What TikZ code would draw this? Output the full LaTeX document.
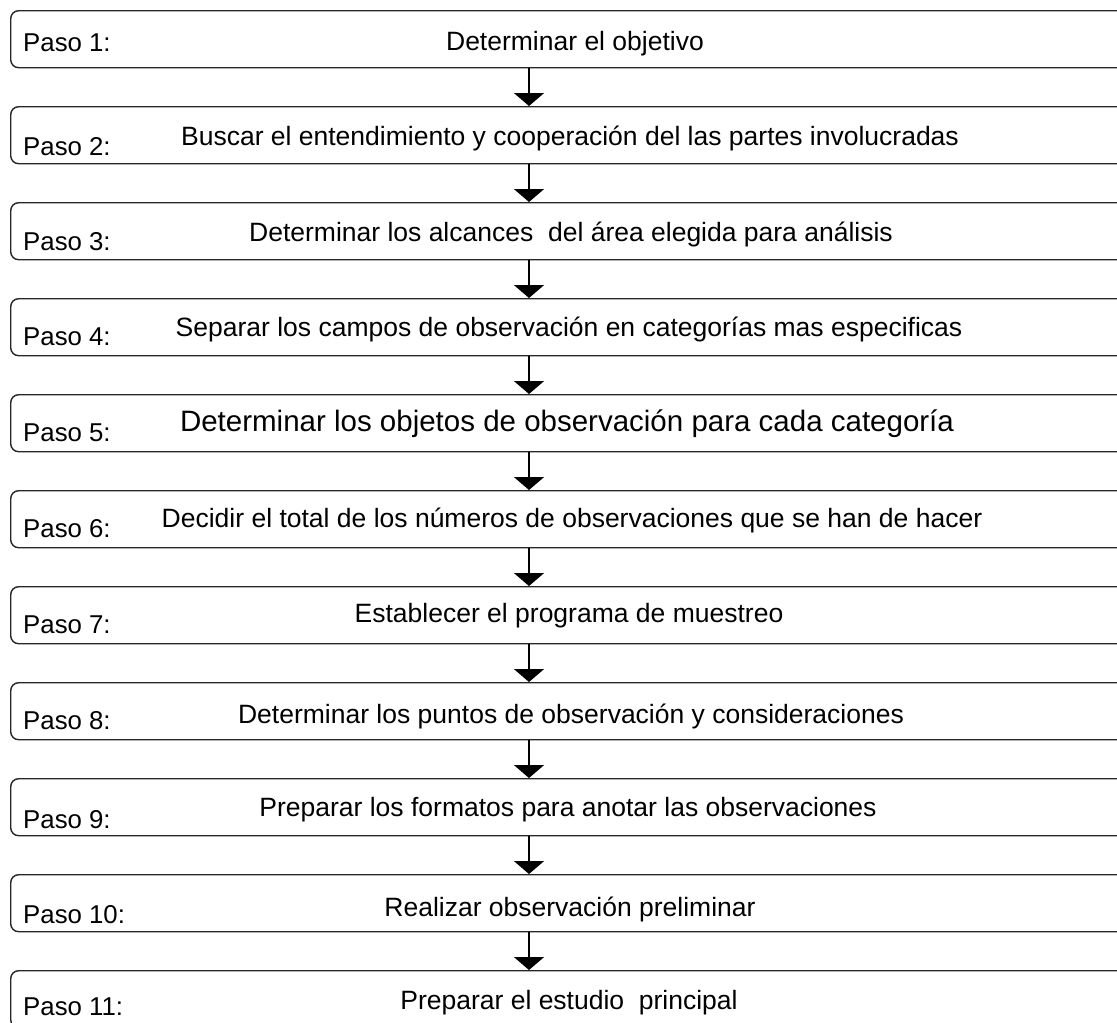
\documentclass[tikz,border=0pt]{standalone}
\usepackage{fontspec}
\setmainfont{Liberation Sans}
\usetikzlibrary{arrows.meta}
\begin{document}
\begin{tikzpicture}[x=1pt,y=-1pt,
  stepbox/.style={draw=black!85, line width=1.4pt, rounded corners=8pt, minimum width=1130pt, minimum height=57pt, anchor=north west, inner sep=0pt},
  lbl/.style={anchor=base west, inner sep=0pt, font=\fontsize{25.8}{30}\selectfont},
  txt/.style={anchor=base, inner sep=0pt},
  arr/.style={line width=1.8pt, -{Triangle[width=30pt,length=13pt]}}]
\useasboundingbox (0,0) rectangle (1117,1023);
\clip (0,0) rectangle (1117,1023);
\coordinate (ax) at (529,0);
\foreach \i/\top/\lb/\tb/\tx/\fs/\tt in {
  1/10/51/50/575/26.5/{Determinar el objetivo},
  2/106/155/145/570/26.5/{Buscar el entendimiento y cooperación del las partes involucradas},
  3/202/250/241/571/26.5/{Determinar los alcances\ \ del área elegida para análisis},
  4/298/345/336/569/26.5/{Separar los campos de observación en categorías mas especificas},
  5/394/441/431/567/29.5/{Determinar los objetos de observación para cada categoría},
  6/490/537/527/572/26.5/{Decidir el total de los números de observaciones que se han de hacer},
  7/586/633/622/569/26.5/{Establecer el programa de muestreo},
  8/682/729/723/571/26.5/{Determinar los puntos de observación y consideraciones},
  9/778/828/816/568/26.5/{Preparar los formatos para anotar las observaciones},
  10/874/923/916/570/26.5/{Realizar observación preliminar},
  11/970/1015/1009/569/26.5/{Preparar el estudio\ \ principal}}
{
  \node[stepbox] (b\i) at (10,\top) {};
  \node[lbl] (l\i) at (23,\lb) {Paso \i:};
  \node[txt, font=\fontsize{\fs}{32}\selectfont] (t\i) at (\tx,\tb) {\tt};
}
\foreach \i [evaluate=\i as \j using int(\i+1)] in {1,...,10}
  \draw[arr] (b\i.south -| ax) -- (b\j.north -| ax);
\end{tikzpicture}
\end{document}
